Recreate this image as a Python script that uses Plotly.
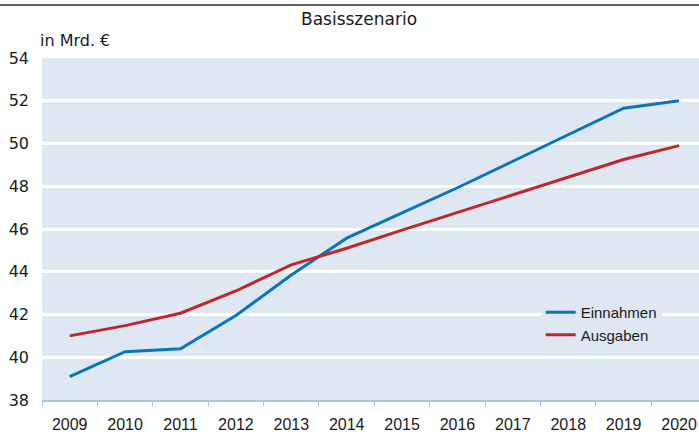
import plotly.graph_objects as go

years = ["2009", "2010", "2011", "2012", "2013", "2014", "2015", "2016", "2017", "2018", "2019", "2020"]
einnahmen = [39.09, 40.26, 40.40, 41.95, 43.85, 45.57, 46.75, 47.93, 49.17, 50.41, 51.65, 52.0]
ausgaben = [41.0, 41.48, 42.06, 43.1, 44.32, 45.1, 45.95, 46.78, 47.6, 48.42, 49.25, 49.9]

BG = "#dfe7f3"
BLUE = "#0a74bb"
RED = "#c0272d"
ARIAL = "Liberation Sans, Arial, sans-serif"
WIDE = "DejaVu Sans, Verdana, sans-serif"
TXT = "#1a1a1a"

L, T, B = 42, 58, 32
PW, PH = 699 - L, 432 - T - B

fig = go.Figure()
fig.add_trace(go.Scatter(x=years, y=einnahmen, mode="lines", name="Einnahmen",
                         line=dict(color=BLUE, width=3)))
fig.add_trace(go.Scatter(x=years, y=ausgaben, mode="lines", name="Ausgaben",
                         line=dict(color=RED, width=3)))

fig.update_layout(
    width=699, height=432,
    margin=dict(l=L, r=0, t=T, b=B, autoexpand=False),
    paper_bgcolor="white",
    plot_bgcolor=BG,
    font=dict(family=ARIAL, color=TXT),
    title=dict(text="Basisszenario", x=359 / 699, xref="container", xanchor="center",
               y=1 - 19 / 432, yref="container", yanchor="middle",
               font=dict(size=17, family=WIDE, color=TXT), automargin=False),
    showlegend=True,
    legend=dict(x=0.759, y=(400 - 296) / PH, xanchor="left", yanchor="top",
                bgcolor=BG, borderwidth=0, font=dict(size=15, family=ARIAL, color=TXT),
                tracegroupgap=0),
    xaxis=dict(type="category", range=[-0.5, 11.36], showgrid=False, zeroline=False,
               automargin=False,
               showline=True, linecolor="#a9c4e6", linewidth=1.5,
               ticks="outside", tickson="boundaries", tickcolor="#a9c4e6", ticklen=5,
               ticklabelstandoff=9,
               tickfont=dict(size=16, family=ARIAL, color=TXT)),
    yaxis=dict(range=[38, 54], dtick=2, tick0=38, showgrid=True, gridcolor="white",
               gridwidth=2.5, zeroline=False, showline=False, ticks="",
               automargin=False, ticklabelstandoff=12,
               tickfont=dict(size=16, family=WIDE, color=TXT)),
    shapes=[dict(type="line", xref="paper", yref="paper",
                 x0=-L / PW, x1=1.0, y0=(400 - 5) / PH, y1=(400 - 5) / PH,
                 line=dict(color="#666666", width=2))],
    annotations=[dict(text="in Mrd. €", xref="paper", yref="paper",
                      x=-4 / PW, y=(400 - 40.5) / PH, xanchor="left", yanchor="middle",
                      showarrow=False, font=dict(size=16, family=WIDE, color=TXT))],
)

fig.write_html("out.html", config={"displayModeBar": False},
               post_script="document.body.style.margin='0';document.body.style.overflow='hidden';")
